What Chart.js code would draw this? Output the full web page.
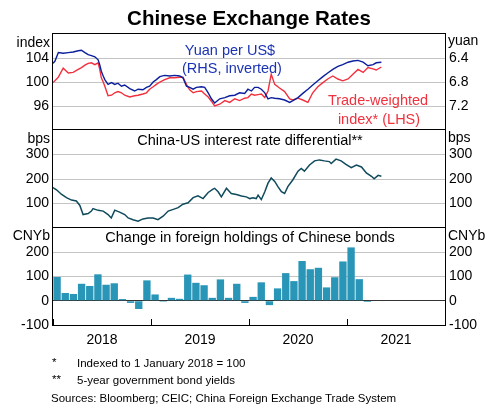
<!DOCTYPE html>
<html><head><meta charset="utf-8">
<script src="https://cdn.jsdelivr.net/npm/chart.js@4.4.1/dist/chart.umd.min.js"></script>
<style>
html,body{margin:0;padding:0;background:#fff;}
#wrap{position:relative;width:496px;height:404px;overflow:hidden;font-family:"Liberation Sans",Arial,sans-serif;color:#000;background:#fff;}
#wrap canvas{position:absolute;left:0;top:0;}
.t{position:absolute;white-space:nowrap;line-height:1;}
.ln{position:absolute;background:#000;}
</style></head><body>
<div id="wrap">
<canvas id="c1" width="496" height="404" style="width:496px;height:404px"></canvas>
<canvas id="c2" width="496" height="404" style="width:496px;height:404px"></canvas>
<canvas id="c3" width="496" height="404" style="width:496px;height:404px"></canvas>
</div>
<script>
// ---------- DATA ----------
const fxDates = ['2018-01-01','2018-01-08','2018-01-21','2018-02-08','2018-02-27','2018-03-17','2018-04-05','2018-04-17','2018-04-30','2018-05-12','2018-05-24','2018-06-06','2018-06-18','2018-06-24','2018-06-30','2018-07-07','2018-07-13','2018-07-25','2018-08-07','2018-08-19','2018-08-31','2018-09-13','2018-09-25','2018-10-14','2018-11-01','2018-11-14','2018-12-02','2018-12-15','2018-12-27','2019-01-09','2019-01-21','2019-02-03','2019-02-21','2019-03-12','2019-03-30','2019-04-18','2019-04-30','2019-05-13','2019-05-25','2019-06-07','2019-06-19','2019-07-08','2019-07-20','2019-08-02','2019-08-14','2019-08-26','2019-09-14','2019-10-03','2019-10-21','2019-11-09','2019-11-27','2019-12-16','2019-12-28','2020-01-10','2020-01-22','2020-02-04','2020-02-16','2020-02-29','2020-03-12','2020-03-24','2020-04-06','2020-04-24','2020-05-13','2020-06-01','2020-06-13','2020-07-02','2020-07-20','2020-08-08','2020-08-26','2020-09-14','2020-10-03','2020-10-21','2020-11-09','2020-11-28','2020-12-16','2021-01-05','2021-01-23','2021-02-11','2021-03-02','2021-03-20','2021-04-08','2021-04-20','2021-05-09'];
const yuanPerUsd = [6.49,6.455,6.31,6.32,6.31,6.30,6.28,6.27,6.31,6.345,6.36,6.38,6.43,6.51,6.62,6.70,6.76,6.84,6.81,6.84,6.82,6.87,6.85,6.91,6.95,6.92,6.93,6.89,6.87,6.80,6.76,6.71,6.69,6.70,6.69,6.70,6.73,6.87,6.89,6.92,6.89,6.88,6.89,6.98,7.08,7.15,7.08,7.06,7.03,7.02,6.98,6.99,6.92,6.95,6.89,6.89,6.92,6.98,7.08,7.06,7.07,7.08,7.10,7.14,7.11,7.06,6.99,6.92,6.85,6.78,6.71,6.65,6.59,6.54,6.51,6.47,6.45,6.44,6.47,6.53,6.51,6.48,6.47];
const tradeWeighted = [99.9,100.2,100.8,102.3,101.5,101.6,102.1,102.4,102.8,103.1,103.2,102.9,103.2,102.1,100.7,100.0,99.3,97.7,97.8,98.2,98.4,98.2,97.8,97.5,97.7,97.8,98.0,98.2,98.8,99.2,99.6,100.0,100.4,100.7,100.7,100.8,100.8,99.6,98.7,98.2,98.4,98.5,98.0,97.5,96.8,96.0,96.3,96.9,96.6,97.2,96.9,97.3,97.4,98.0,97.8,97.9,98.0,97.4,98.5,101.3,99.6,99.0,98.4,97.2,97.0,97.3,97.0,96.6,98.2,99.2,99.9,100.5,101.0,100.5,100.2,100.5,101.3,102.1,101.6,102.4,102.2,102.0,102.5];

const diffDates = ['2018-01-01','2018-01-14','2018-02-01','2018-02-20','2018-03-11','2018-03-29','2018-04-11','2018-04-23','2018-05-12','2018-05-24','2018-05-30','2018-06-18','2018-07-07','2018-07-25','2018-08-06','2018-08-19','2018-09-06','2018-09-25','2018-10-08','2018-10-26','2018-11-14','2018-12-02','2018-12-21','2019-01-09','2019-01-27','2019-02-15','2019-03-06','2019-03-25','2019-04-12','2019-04-30','2019-05-19','2019-06-07','2019-06-25','2019-07-14','2019-08-02','2019-08-20','2019-08-26','2019-09-08','2019-09-20','2019-10-09','2019-10-27','2019-11-15','2019-12-04','2019-12-22','2020-01-04','2020-01-16','2020-01-28','2020-02-04','2020-02-16','2020-02-29','2020-03-12','2020-03-24','2020-04-06','2020-04-18','2020-05-01','2020-05-13','2020-05-25','2020-06-13','2020-07-02','2020-07-14','2020-07-26','2020-08-14','2020-09-02','2020-09-20','2020-10-09','2020-10-27','2020-11-03','2020-11-21','2020-12-10','2020-12-28','2021-01-17','2021-02-05','2021-02-24','2021-03-14','2021-04-02','2021-04-12','2021-04-27','2021-05-09'];
const rateDiffBps = [165,156,138,124,114,110,92,55,59,69,79,72,69,55,41,73,65,55,41,34,28,37,41,41,34,48,69,76,83,97,103,124,131,120,145,159,162,148,127,162,141,137,131,127,120,123,120,134,116,148,183,204,190,169,148,141,169,197,232,243,232,257,274,278,274,271,263,281,274,260,246,257,249,225,211,201,215,211];

const bondMonths = ['2018-01','2018-02','2018-03','2018-04','2018-05','2018-06','2018-07','2018-08','2018-09','2018-10','2018-11','2018-12','2019-01','2019-02','2019-03','2019-04','2019-05','2019-06','2019-07','2019-08','2019-09','2019-10','2019-11','2019-12','2020-01','2020-02','2020-03','2020-04','2020-05','2020-06','2020-07','2020-08','2020-09','2020-10','2020-11','2020-12','2021-01','2021-02','2021-03'];
const bondFlowsCNYb = [98,32,28,70,61,109,66,72,7,-9,-34,84,26,-4,12,8,108,74,64,12,88,12,70,-9,16,76,-18,51,114,81,164,130,136,55,97,162,220,89,-5];

const yearTicks = [2018,2019,2020,2021,2022];
const yearLabels = ['2018','2019','2020','2021',''];
const twiTicks = [96,100,104];
const yuanTicks = [6.4,6.8,7.2];
const bpsTicks = [100,200,300];
const cnybTicks = [-100,0,100,200];

// ---------- helpers ----------
function decYear(s){
  const p = s.split('-').map(Number);
  const y = p[0], m = p[1];
  if (p.length === 2) return y + (m - 0.5) / 12;
  const a = Date.UTC(y,0,1), b = Date.UTC(y+1,0,1);
  return y + (Date.UTC(y,m-1,p[2]) - a) / (b - a);
}
const FAM = '"Liberation Sans", Arial, sans-serif';
const GRID = '#c4c4c4';
const W = 404;
const PLOT = {left:53, right:445, top:34, b1:130, b2:228, bottom:325};

function xHidden(){ return {type:'linear', min:2018, max:2022, display:false, offset:false}; }
function yAxis(pos, min, max, tickVals, opts){
  opts = opts || {};
  return Object.assign({
    type:'linear', position:pos, min:min, max:max, reverse: !!opts.reverse,
    afterBuildTicks: s => { s.ticks = tickVals.map(v => ({value:v})); },
    afterFit: s => { s.width = pos === 'left' ? PLOT.left : 496 - PLOT.right; },
    border:{display:false},
    grid: pos === 'left' ? {color: opts.gridColor || GRID, lineWidth:1, drawTicks:false}
                         : {drawOnChartArea:false, drawTicks:false},
    ticks:{font:{family:FAM, size:14}, color:'#000', padding:4,
      callback: opts.fmt || (v => String(v))}
  }, {});
}
const base = {
  responsive:false, animation:false, devicePixelRatio:1, events:[],
  plugins:{legend:{display:false}, tooltip:{enabled:false}}
};

// ---------- top panel ----------
new Chart(document.getElementById('c1'), {
  type:'line',
  data:{datasets:[
    {data: fxDates.map((d,i)=>({x:decYear(d), y:yuanPerUsd[i]})), yAxisID:'yR',
     borderColor:'#0b1f9c', borderWidth:1.4, pointRadius:0, tension:0},
    {data: fxDates.map((d,i)=>({x:decYear(d), y:tradeWeighted[i]})), yAxisID:'yL',
     borderColor:'#f2303e', borderWidth:1.4, pointRadius:0, tension:0}
  ]},
  options:Object.assign({}, base, {
    layout:{padding:{top:PLOT.top, bottom:W-PLOT.b1, left:0, right:0}},
    scales:{
      x: xHidden(),
      yL: yAxis('left', 92, 108, twiTicks),
      yR: yAxis('right', 6.0, 7.6, yuanTicks, {reverse:true, fmt: v => Number(v).toFixed(1)})
    }
  })
});

// ---------- middle panel ----------
new Chart(document.getElementById('c2'), {
  type:'line',
  data:{datasets:[
    {data: diffDates.map((d,i)=>({x:decYear(d), y:rateDiffBps[i]})), yAxisID:'yL',
     borderColor:'#0e4a5c', borderWidth:1.5, pointRadius:0, tension:0}
  ]},
  options:Object.assign({}, base, {
    layout:{padding:{top:PLOT.b1, bottom:W-PLOT.b2, left:0, right:0}},
    scales:{
      x: xHidden(),
      yL: yAxis('left', 0, 400, bpsTicks),
      yR: yAxis('right', 0, 400, bpsTicks)
    }
  })
});

// ---------- bottom panel ----------
new Chart(document.getElementById('c3'), {
  type:'bar',
  data:{datasets:[
    {data: bondMonths.map((m,i)=>({x:decYear(m), y:bondFlowsCNYb[i]})), yAxisID:'yL',
     backgroundColor:'#2996b8', borderWidth:0, barPercentage:0.9, categoryPercentage:1}
  ]},
  options:Object.assign({}, base, {
    layout:{padding:{top:PLOT.b2, bottom:W-PLOT.bottom-20, left:0, right:0}},
    scales:{
      x:{type:'linear', min:2018, max:2022, offset:false, position:'bottom',
         afterBuildTicks: s => { s.ticks = yearTicks.map(v => ({value:v})); },
         afterFit: s => { s.height = 20; },
         border:{display:false},
         grid:{drawOnChartArea:false, drawTicks:true, tickLength:-6, color:'#000', lineWidth:1, offset:false},
         ticks:{font:{family:FAM, size:14}, color:'#000', padding:13, labelOffset:49,
                autoSkip:false, maxRotation:0, callback:(v,i)=>yearLabels[i]}},
      yL: yAxis('left', -100, 300, cnybTicks, {gridColor: c => c.tick && c.tick.value === 0 ? '#333' : (c.tick && c.tick.value === -100 ? 'rgba(0,0,0,0)' : GRID)}),
      yR: yAxis('right', -100, 300, cnybTicks)
    }
  })
});

// ---------- frame & text ----------
const wrap = document.getElementById('wrap');
function line(x,y,w,h){ const d=document.createElement('div'); d.className='ln';
  Object.assign(d.style,{left:x+'px',top:y+'px',width:w+'px',height:h+'px'}); wrap.appendChild(d); }
line(52, 33, 394, 1); line(52, 325, 394, 1); line(52, 33, 1, 293); line(445, 33, 1, 293);
line(52, 129, 394, 1); line(52, 227, 394, 1);

function txt(s, x, cy, size, align, color, weight){
  const d=document.createElement('div'); d.className='t'; d.textContent=s;
  d.style.fontSize=size+'px'; d.style.color=color||'#000'; if(weight) d.style.fontWeight=weight;
  d.style.top=(cy-0.49*size)+'px';
  if(align==='right'){ d.style.right=(496-x)+'px'; }
  else if(align==='center'){ d.style.left=x+'px'; d.style.transform='translateX(-50%)'; }
  else d.style.left=x+'px';
  wrap.appendChild(d);
}
txt('Chinese Exchange Rates', 249, 18.5, 20.5, 'center', '#000', 'bold');
txt('index', 50, 42, 14, 'right'); txt('yuan', 448, 40, 14, 'left');
txt('bps', 50, 138, 14, 'right'); txt('bps', 448, 137, 14, 'left');
txt('CNYb', 50, 235, 14, 'right'); txt('CNYb', 448, 235, 14, 'left');
txt('Yuan per US$', 230, 50, 14.5, 'center', '#1b33b5');
txt('(RHS, inverted)', 232, 68.5, 14.5, 'center', '#1b33b5');
txt('Trade-weighted', 378, 100, 14.5, 'center', '#f0323f');
txt('index* (LHS)', 379, 119, 14.5, 'center', '#f0323f');
txt('China-US interest rate differential**', 250, 140, 14.5, 'center');
txt('Change in foreign holdings of Chinese bonds', 250, 237.5, 14.5, 'center');
txt('*', 52, 363, 11.5, 'left'); txt('Indexed to 1 January 2018 = 100', 77, 364, 11.5, 'left');
txt('**', 52, 380, 11.5, 'left'); txt('5-year government bond yields', 77, 380.5, 11.5, 'left');
txt('Sources: Bloomberg; CEIC; China Foreign Exchange Trade System', 51, 398.5, 11.5, 'left');
</script>
</body></html>
